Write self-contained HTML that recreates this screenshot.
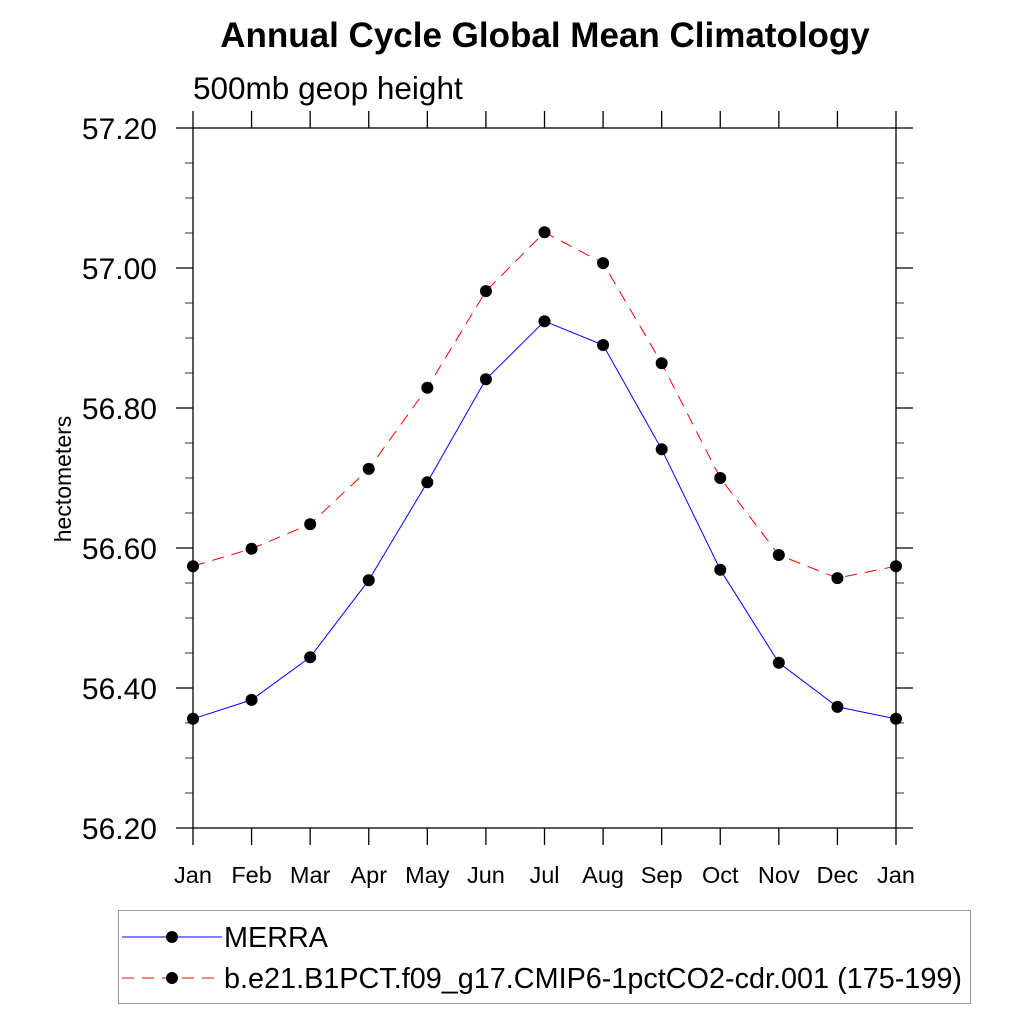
<!DOCTYPE html>
<html><head><meta charset="utf-8"><style>body{margin:0;background:#fff}svg{display:block;font-family:"Liberation Sans",sans-serif}</style></head>
<body>
<svg id="chart" width="1024" height="1024" viewBox="0 0 1024 1024">
<text x="545" y="47" font-size="35" font-weight="bold" text-anchor="middle">Annual Cycle Global Mean Climatology</text>
<text x="193" y="99" font-size="31.5">500mb geop height</text>
<text transform="translate(71,479) rotate(-90)" font-size="23" text-anchor="middle">hectometers</text>
<g id="axes"></g><g id="series"></g>
<g>
<rect x="118.5" y="910.5" width="852" height="93" fill="none" stroke="#999" stroke-width="1"/>
<line x1="122" y1="937" x2="222" y2="937" stroke="#0000ff" stroke-width="1"/>
<circle cx="172" cy="937" r="6" fill="#000"/>
<text x="224" y="947" font-size="28.8">MERRA</text>
<line x1="122" y1="978" x2="222" y2="978" stroke="#ff0000" stroke-width="1" stroke-dasharray="12,8"/>
<circle cx="172" cy="978" r="6" fill="#000"/>
<text x="224" y="988" font-size="28.8">b.e21.B1PCT.f09_g17.CMIP6-1pctCO2-cdr.001 (175-199)</text>
</g>
</svg>
<script>
const months=["Jan","Feb","Mar","Apr","May","Jun","Jul","Aug","Sep","Oct","Nov","Dec","Jan"];
const merra=[56.356,56.383,56.444,56.554,56.694,56.841,56.924,56.890,56.741,56.569,56.436,56.373,56.356];
const model=[56.574,56.599,56.634,56.713,56.829,56.967,57.051,57.007,56.864,56.700,56.590,56.557,56.574];
const yTicks=[56.2,56.4,56.6,56.8,57.0,57.2];
const NS="http://www.w3.org/2000/svg";
const L=193,R=896,T=128,B=828,ymin=56.2,ymax=57.2;
const xs=i=>L+(R-L)*i/(months.length-1);
const ys=v=>B-(v-ymin)/(ymax-ymin)*(B-T);
function mk(t,a,p){const e=document.createElementNS(NS,t);for(const k in a)e.setAttribute(k,a[k]);p.appendChild(e);return e;}
const ax=document.getElementById('axes'),se=document.getElementById('series');
const frame=mk('rect',{x:L,y:T,width:R-L,height:B-T,fill:'none',stroke:'#000','stroke-width':1.3},ax);


months.forEach((m,i)=>{const x=xs(i);
mk('line',{x1:x,y1:B,x2:x,y2:B+17,stroke:'#000','stroke-width':1.3},ax);
mk('line',{x1:x,y1:T,x2:x,y2:T-17,stroke:'#000','stroke-width':1.3},ax);
const t=mk('text',{x:x,y:883,'font-size':23.5,'text-anchor':'middle'},ax);t.textContent=m;

});
for(let v=ymin;v<=ymax+1e-9;v+=0.05){const y=ys(v);const maj=Math.abs(Math.round(v*10)/10-v)<1e-6&&Math.round(v*10)%2==0;const len=maj?17:8;
mk('line',{x1:L-len,y1:y,x2:L,y2:y,stroke:'#000','stroke-width':maj?1.3:0.8},ax);
mk('line',{x1:R,y1:y,x2:R+len,y2:y,stroke:'#000','stroke-width':maj?1.3:0.8},ax);}
yTicks.forEach(v=>{const t=mk('text',{x:157,y:ys(v)+11,'font-size':30,'text-anchor':'end'},ax);t.textContent=v.toFixed(2);

});
function draw(vals,color,dash,name){
const pl=mk('polyline',{points:vals.map((v,i)=>xs(i)+','+ys(v)).join(' '),fill:'none',stroke:color,'stroke-width':1,'stroke-dasharray':dash},se);


vals.forEach((v,i)=>{const c=mk('circle',{cx:xs(i),cy:ys(v),r:6,fill:'#000'},se);

});}
draw(merra,'#0000ff','none','merra');
draw(model,'#ff0000','12,8','model');
</script>
</body></html>
